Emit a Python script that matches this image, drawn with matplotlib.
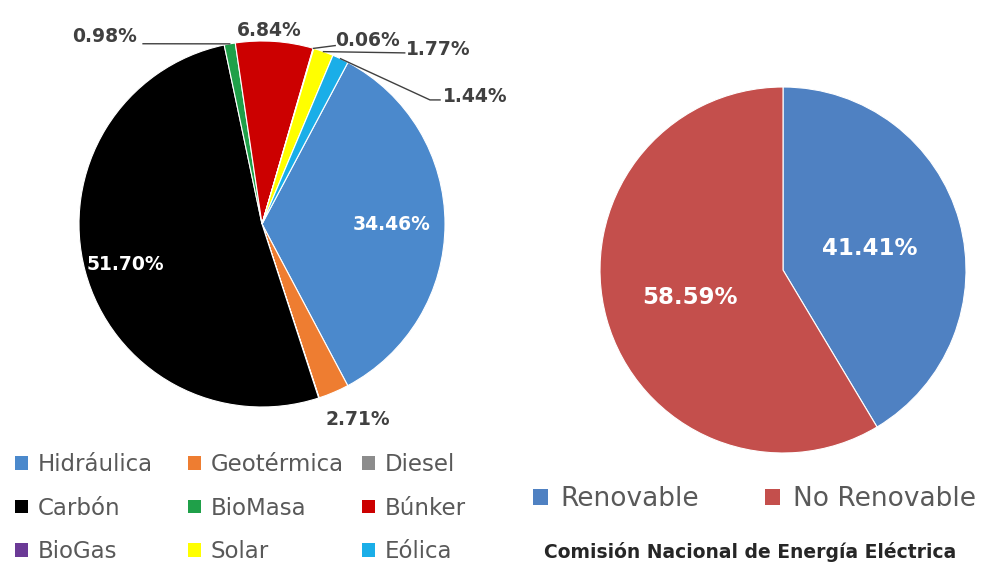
import matplotlib.pyplot as plt
from matplotlib.patches import Patch
import numpy as np

# generacion por fuente (%)
fuentes = ["Hidráulica", "Geotérmica", "Diesel", "Carbón", "BioMasa",
           "Búnker", "BioGas", "Solar", "Eólica"]
porcentajes = [34.46, 2.71, 0.04, 51.70, 0.98, 6.84, 0.06, 1.77, 1.44]
colores = ["#4b89cc", "#ee7d31", "#8c8c8c", "#000000", "#1fa049",
           "#cc0000", "#6b3a96", "#ffff00", "#1aaee8"]

# renovable / no renovable (%)
tipos = ["Renovable", "No Renovable"]
tipo_pct = [41.41, 58.59]
tipo_colores = ["#4f81c2", "#c44f4c"]

fuente_texto = "Comisión Nacional de Energía Eléctrica"

W, H = 985, 566
fig = plt.figure(figsize=(W / 100, H / 100), dpi=100)
fig.patch.set_facecolor("white")


def pie_axes(cx, cy, r):
    # cx, cy, r in pixels of the final image
    return fig.add_axes([(cx - r) / W, 1 - (cy + r) / H, 2 * r / W, 2 * r / H])


gris = "#404040"

# ---- pie 1 ----
ax1 = pie_axes(262, 224, 183)
wedges1, _ = ax1.pie(porcentajes, colors=colores, startangle=62,
                     counterclock=False,
                     wedgeprops=dict(linewidth=0.8, edgecolor="white"))
ax1.set_xlim(-1, 1)
ax1.set_ylim(-1, 1)
ax1.set_axis_off()

# label placement (index -> x, y, color)
pos1 = {
    0: (0.71, 0.0, "white"),
    1: (0.525, -1.071, gris),
    3: (-0.749, -0.224, "white"),
    4: (-0.863, 1.022, gris),
    5: (0.038, 1.055, gris),
    6: (0.574, 1.005, gris),
    7: (0.962, 0.951, gris),
    8: (1.164, 0.699, gris),
}
for i, (x, y, c) in pos1.items():
    ax1.text(x, y, f"{porcentajes[i]:.2f}%", ha="center", va="center",
             fontsize=13.5, fontweight="bold", color=c, clip_on=False)


def edge(w):
    a = np.deg2rad((w.theta1 + w.theta2) / 2)
    return np.cos(a), np.sin(a)


# leader lines
guias = {
    4: [(-0.65, 0.985)],
    6: [(0.40, 0.975)],
    7: [(0.78, 0.935)],
    8: [(0.918, 0.678), (0.973, 0.678)],
}
for i, pts in guias.items():
    ex, ey = edge(wedges1[i])
    xs = [ex] + [p[0] for p in pts]
    ys = [ey] + [p[1] for p in pts]
    ax1.plot(xs, ys, color=gris, lw=1, clip_on=False)

# ---- pie 2 ----
ax2 = pie_axes(783, 270, 183)
wedges2, _ = ax2.pie(tipo_pct, colors=tipo_colores, startangle=90,
                     counterclock=False,
                     wedgeprops=dict(linewidth=0.8, edgecolor="white"))
ax2.set_xlim(-1, 1)
ax2.set_ylim(-1, 1)
ax2.set_axis_off()
pos2 = [(0.475, 0.12), (-0.508, -0.148)]
for v, (x, y) in zip(tipo_pct, pos2):
    ax2.text(x, y, f"{v:.2f}%", ha="center", va="center",
             fontsize=16.5, fontweight="bold", color="white")

# ---- legends ----
handles1 = [Patch(facecolor=c, edgecolor="none") for c in colores]
col_x = [15, 188, 362]
for k, x in enumerate(col_x):
    idx = [k, k + 3, k + 6]
    fig.legend([handles1[i] for i in idx], [fuentes[i] for i in idx],
               loc="upper left", bbox_to_anchor=(x / W, 1 - 453 / H),
               frameon=False, fontsize=16.5, handlelength=0.55,
               handleheight=0.55, handletextpad=0.45, labelspacing=0.9,
               borderpad=0, borderaxespad=0, labelcolor="#595959")

handles2 = [Patch(facecolor=c, edgecolor="none") for c in tipo_colores]
fig.legend(handles2, tipos, loc="upper left", ncol=2,
           bbox_to_anchor=(533 / W, 1 - 486 / H), frameon=False,
           fontsize=19, handlelength=0.55, handleheight=0.55,
           handletextpad=0.5, columnspacing=2.5, borderpad=0,
           borderaxespad=0, labelcolor="#595959")

fig.text(750 / W, 1 - 552 / H, fuente_texto, ha="center", va="center",
         fontsize=13.5, fontweight="bold", color="#262626")

fig.savefig("out.png", dpi=100)
